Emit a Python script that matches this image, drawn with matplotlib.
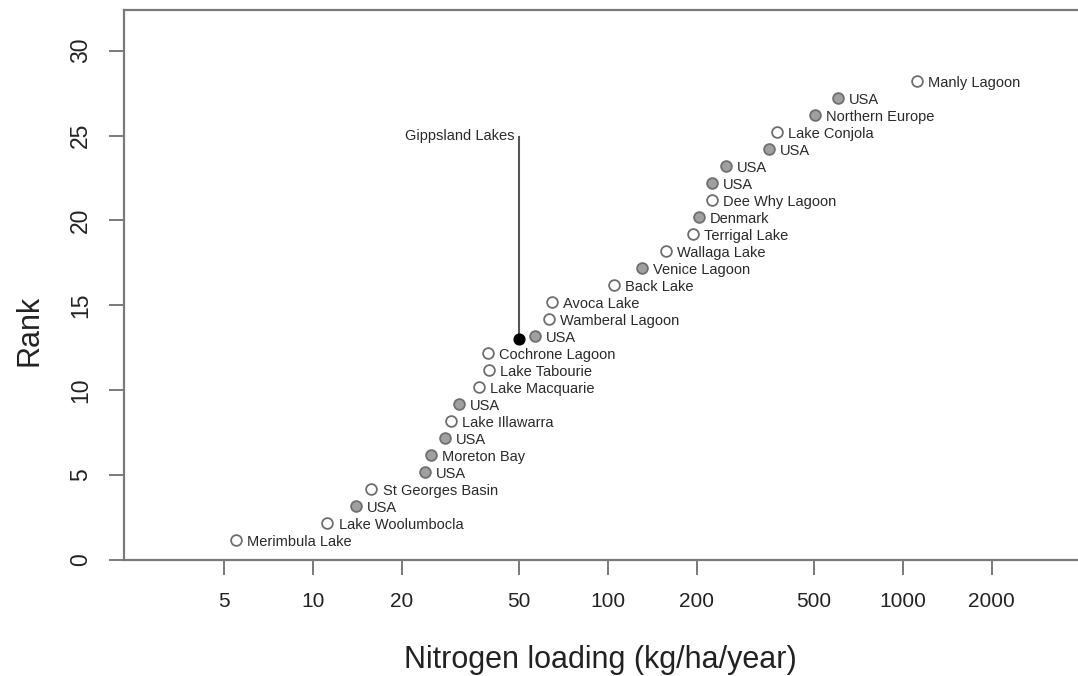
import matplotlib
matplotlib.use("Agg")
import matplotlib.pyplot as plt
import numpy as np

plt.rcParams['font.family'] = ['Liberation Sans', 'DejaVu Sans']

# Data
names = ["Merimbula Lake", "Lake Woolumbocla", "USA", "St Georges Basin", "USA",
         "Moreton Bay", "USA", "Lake Illawarra", "USA", "Lake Macquarie",
         "Lake Tabourie", "Cochrone Lagoon", "USA", "Wamberal Lagoon", "Avoca Lake",
         "Back Lake", "Venice Lagoon", "Wallaga Lake", "Terrigal Lake", "Denmark",
         "Dee Why Lagoon", "USA", "USA", "USA", "Lake Conjola",
         "Northern Europe", "USA", "Manly Lagoon"]
nitrogen = [5.5, 11.2, 14.0, 15.8, 24.0,
            25.1, 28.0, 29.4, 31.3, 36.5,
            39.5, 39.3, 56.6, 63.1, 64.6,
            104.8, 130.4, 157.3, 194.1, 203.4,
            225.0, 225.2, 251.2, 351.4, 374.1,
            503.2, 602.3, 1115.0]
rank = [1.2, 2.2, 3.2, 4.2, 5.2,
        6.2, 7.2, 8.2, 9.2, 10.2,
        11.2, 12.2, 13.2, 14.2, 15.2,
        16.2, 17.2, 18.2, 19.2, 20.2,
        21.2, 22.2, 23.2, 24.2, 25.2,
        26.2, 27.2, 28.2]
# True = international (grey filled), False = Australian (open)
international = [False, False, True, False, True,
                 True, True, False, True, False,
                 False, False, True, False, False,
                 False, True, False, False, True,
                 False, True, True, True, False,
                 True, True, False]

gipps_name = "Gippsland Lakes"
gipps_n = 50.0
gipps_rank = 13.0
gipps_label_rank = 25.0

xticks = [5, 10, 20, 50, 100, 200, 500, 1000, 2000]
yticks = [0, 5, 10, 15, 20, 25, 30]

fig = plt.figure(figsize=(10.78, 6.76), dpi=100)
ax = fig.add_axes([124/1078, 1-560/676, 1-124/1078, 550/676])
ax.set_xscale('log')
ax.set_xlim(2.29, 3920)
ax.set_ylim(0, 32.4)

axis_col = '#7a7a7a'
for s in ['left', 'bottom', 'top']:
    ax.spines[s].set_color(axis_col)
    ax.spines[s].set_linewidth(1.6)
ax.spines['right'].set_visible(False)

ax.set_xticks(xticks)
ax.set_xticklabels([str(t) for t in xticks])
ax.xaxis.set_minor_locator(matplotlib.ticker.NullLocator())
ax.set_yticks(yticks)
ax.set_yticklabels([str(t) for t in yticks], rotation=90, va='center')
ax.tick_params(axis='both', length=11, width=1.4, color=axis_col,
               labelcolor='#222222')
ax.tick_params(axis='x', pad=12, labelsize=15)
ax.tick_params(axis='y', pad=12, labelsize=16.5)

x = np.array(nitrogen)
y = np.array(rank)
intl = np.array(international)

ax.scatter(x[~intl], y[~intl], s=60, facecolor='white', edgecolor='#6e6e6e',
           linewidth=1.3, zorder=3)
ax.scatter(x[intl], y[intl], s=60, facecolor='#a0a0a0', edgecolor='#707070',
           linewidth=1.3, zorder=3)

for nm, xi, yi in zip(names, nitrogen, rank):
    ax.annotate(nm, (xi, yi), xytext=(8, -1.5), textcoords='offset points',
                ha='left', va='center', fontsize=10.5, color='#2a2a2a')

# Gippsland Lakes
ax.plot([gipps_n, gipps_n], [gipps_rank, gipps_label_rank - 0.1],
        color='#555555', linewidth=1.5, zorder=2)
ax.scatter([gipps_n], [gipps_rank], s=60, facecolor='black', edgecolor='black', zorder=4)
ax.annotate(gipps_name, (gipps_n, gipps_label_rank), xytext=(-3, 0),
            textcoords='offset points', ha='right', va='center',
            fontsize=10.5, color='#2a2a2a')

fig.text(30/1078, 1-330/676, "Rank", rotation=90, ha='center', va='center',
         fontsize=22, color='#222222')
fig.text(600/1078, 1-660/676, "Nitrogen loading (kg/ha/year)", ha='center',
         va='center', fontsize=22, color='#222222')

fig.savefig("out.png", dpi=100)
